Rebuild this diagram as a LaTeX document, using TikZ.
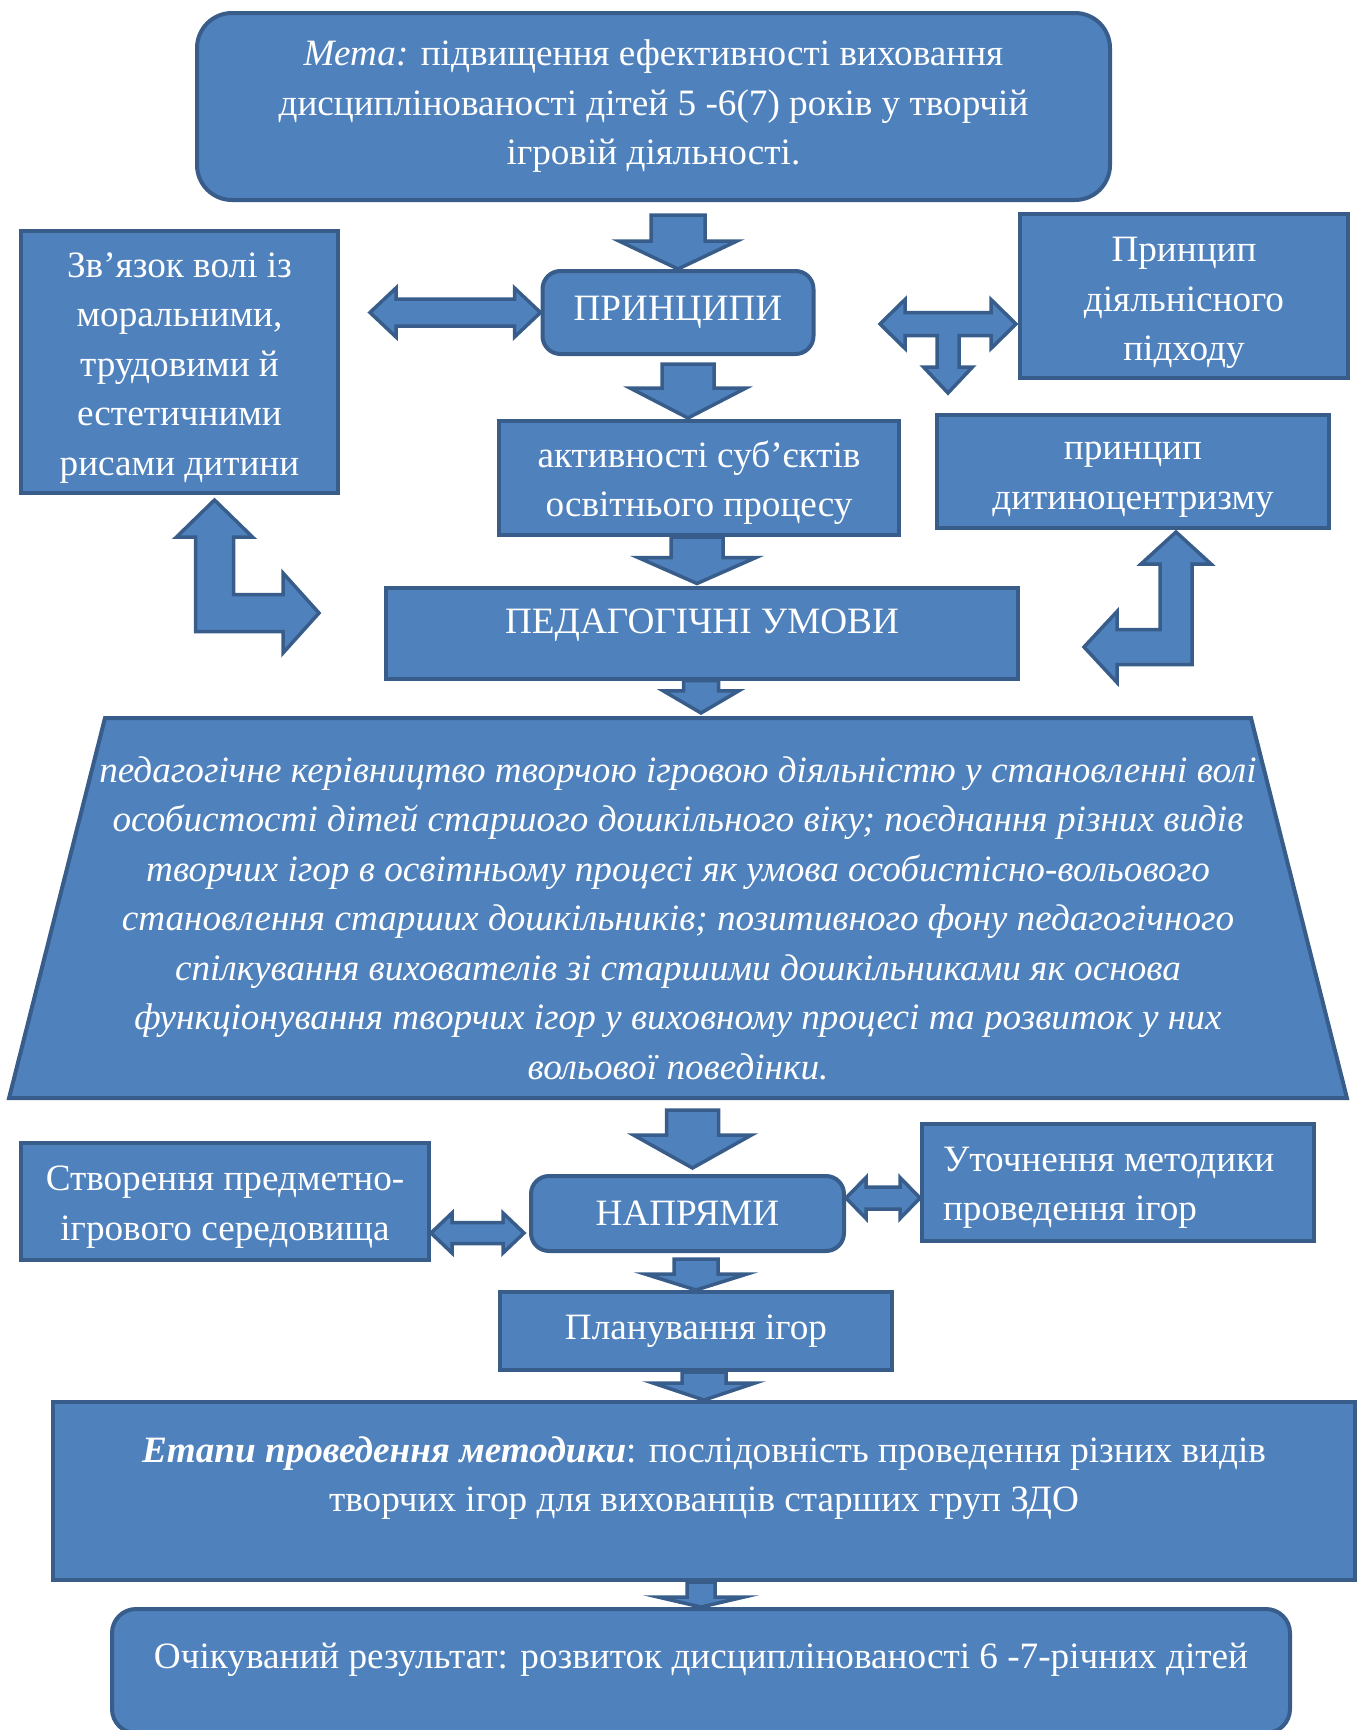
\documentclass[tikz,border=0pt]{standalone}
\usepackage{fontspec}
\setmainfont{Liberation Serif}
\usetikzlibrary{calc}
\usetikzlibrary{shapes.geometric}

\definecolor{boxfill}{HTML}{4F81BD}
\definecolor{boxline}{HTML}{385D8A}

\tikzset{
	box/.style={draw=boxline,fill=boxfill,line width=4pt,text=white,align=flush center,inner sep=0pt,font=\fontsize{37.2}{49.5}\selectfont},
	roundbox/.style={box,rounded corners=#1},
	roundbox/.default=18pt,
	strutted/.style={execute at begin node={\rule{0pt}{#1}}},
	strutted/.default=36pt,
	blockarrow/.style={draw=boxline,fill=boxfill,line width=3.5pt,line join=miter}
}

% fat arrow down: start, tip, shaft half width, head half width, head length
\newcommand{\fatdown}[5]{%
	\filldraw[blockarrow] ($(#2|-#1)+(-#3,0)$) -- ($(#2|-#1)+(#3,0)$)
		-- ($(#2)+(#3,-#5)$) -- ($(#2)+(#4,-#5)$) -- (#2)
		-- ($(#2)+(-#4,-#5)$) -- ($(#2)+(-#3,-#5)$) -- cycle;}

% fat double arrow: left tip, right tip, shaft half width, head half width, head length
\newcommand{\fatboth}[5]{%
	\filldraw[blockarrow] (#1|-#2) -- ($(#1|-#2)+(#5,-#4)$) -- ($(#1|-#2)+(#5,-#3)$)
		-- ($(#2)+(-#5,-#3)$) -- ($(#2)+(-#5,-#4)$) -- (#2)
		-- ($(#2)+(-#5,#4)$) -- ($(#2)+(-#5,#3)$)
		-- ($(#1|-#2)+(#5,#3)$) -- ($(#1|-#2)+(#5,#4)$) -- cycle;}

\begin{document}
\begin{tikzpicture}[x=1pt,y=-1pt]
			\useasboundingbox (0,0) rectangle (1363,1730);
			
			% goal and principles
			
			\node[roundbox=35pt,minimum width=913pt,minimum height=187pt] (goal) at (653.5,106.5) {\textit{Мета:} підвищення ефективності виховання\\дисциплінованості дітей 5 -6(7) років у творчій\\ігровій діяльності.};
			\node[box,strutted,text width=300pt,minimum width=317pt,minimum height=262pt] (link) at (179.5,362) {Зв’язок волі із\\моральними,\\трудовими й\\естетичними\\рисами дитини};
			\node[roundbox,minimum width=271pt,minimum height=83pt] (rules) at (678,312.5) {ПРИНЦИПИ};
			\node[box,strutted=38.5pt,text width=300pt,minimum width=328pt,minimum height=164pt] (activity) at (1184,296) {Принцип\\діяльнісного\\підходу};
			\node[box,strutted,text width=380pt,minimum width=400pt,minimum height=114pt] (subj) at (699,478) {активності суб’єктів\\освітнього процесу};
			\node[box,strutted=34.5pt,text width=380pt,minimum width=392pt,minimum height=113pt] (child) at (1133,471.5) {принцип\\дитиноцентризму};
			
			% conditions
			
			\node[box,minimum width=632pt,minimum height=91pt,text height=24pt,text depth=24pt] (cond) at (702,633) {ПЕДАГОГІЧНІ УМОВИ};
			\node[box,trapezium,trapezium angle=75,trapezium stretches=true,minimum width=1336pt,minimum height=380pt,text width=1200pt,inner xsep=-27pt,text height=53pt,text depth=305pt,font=\fontsize{37.2}{49.5}\selectfont\itshape] (means) at (678,908) {педагогічне керівництво творчою ігровою діяльністю у становленні волі\\особистості дітей старшого дошкільного віку; поєднання різних видів\\творчих ігор в освітньому процесі як умова особистісно-вольового\\становлення старших дошкільників; позитивного фону педагогічного\\спілкування вихователів зі старшими дошкільниками як основа\\функціонування творчих ігор у виховному процесі та розвиток у них\\вольової поведінки.};
			
			% directions
			
			\node[roundbox,minimum width=313pt,minimum height=75pt] (dirs) at (687.5,1213.5) {НАПРЯМИ};
			\node[box,strutted=37pt,text width=400pt,minimum width=408pt,minimum height=117pt] (env) at (225,1201) {Створення предметно-\\ігрового середовища};
			\node[box,strutted,minimum width=392pt,minimum height=117pt,text width=350pt,align=flush left] (refine) at (1118,1182) {Уточнення методики\\проведення ігор};
			\node[box,minimum width=392pt,minimum height=78pt] (plan) at (696,1331) {Планування ігор};
			\node[box,minimum width=1302pt,minimum height=178pt,text width=1260pt,text height=26pt,text depth=84pt] (stages) at (704,1491) {\textbf{\textit{Етапи проведення методики}}: послідовність проведення різних видів\\творчих ігор для вихованців старших груп ЗДО};
			\node[roundbox=24pt,minimum width=1178pt,minimum height=124pt,text height=26pt,text depth=32pt] (result) at (701,1671) {Очікуваний результат: розвиток дисциплінованості 6 -7-річних дітей};
			
			% arrows down
			
			\coordinate (a1) at ($(goal.south)+(0,13)$);
			\fatdown{a1}{rules.north}{27}{59}{28}
			\coordinate (a2) at ($(rules.south)+(0,8)$);
			\coordinate (a2t) at ($(subj.north)+(-11,-1)$);
			\fatdown{a2}{a2t}{26}{58}{30}
			\coordinate (a3t) at ($(cond.north)+(-5,-2)$);
			\fatdown{subj.south}{a3t}{26}{59}{26}
			\coordinate (a4t) at ($(means.north)+(23,-3)$);
			\fatdown{cond.south}{a4t}{17.5}{37.5}{22}
			\coordinate (a5) at ($(means.south)+(0,10)$);
			\coordinate (a5t) at ($(dirs.north)+(5,-6)$);
			\fatdown{a5}{a5t}{26}{59}{33}
			\coordinate (a6) at ($(dirs.south)+(0,6)$);
			\fatdown{a6}{plan.north}{22}{51}{16}
			\fatdown{plan.south}{stages.north}{22}{51}{17}
			\fatdown{stages.south}{result.north}{14}{43}{10}
			
			% arrows both ways
			
			\coordinate (h1) at ($(link.east)+(30,0)$);
			\fatboth{h1}{rules.west}{13.5}{24.5}{26}
			\coordinate (h3) at ($(dirs.west)+(-5,19.5)$);
			\fatboth{env.east}{h3}{10.5}{20}{21}
			\coordinate (h4) at ($(refine.west)+(0,16)$);
			\fatboth{dirs.east}{h4}{11}{20.5}{20}
			
			% T arrow
			
			\coordinate (tl) at ($(rules.east)+(64.5,11.5)$);
			\coordinate (tr) at ($(activity.west)+(-2,28)$);
			\coordinate (tm) at ($(tl)!0.5!(tr)$);
			\filldraw[blockarrow] (tl|-tr) -- ($(tl|-tr)+(25,-24.5)$) -- ($(tl|-tr)+(25,-11.5)$)
				-- ($(tr)+(-25,-11.5)$) -- ($(tr)+(-25,-24.5)$) -- (tr)
				-- ($(tr)+(-25,24.5)$) -- ($(tr)+(-25,11.5)$)
				-- ($(tm|-tr)+(11,11.5)$) -- ($(tm|-tr)+(11,43)$) -- ($(tm|-tr)+(24.5,43)$)
				-- ($(tm|-tr)+(0,69)$) -- ($(tm|-tr)+(-24.5,43)$) -- ($(tm|-tr)+(-11,43)$)
				-- ($(tm|-tr)+(-11,11.5)$) -- ($(tl|-tr)+(25,11.5)$) -- ($(tl|-tr)+(25,24.5)$) -- cycle;
			
			% bent arrows
			
			\coordinate (lu) at ($(link.south)+(35,5)$);
			\coordinate (lr) at ($(cond.west)+(-65,-20)$);
			\filldraw[blockarrow] (lu) -- ($(lu)+(38,37)$) -- ($(lu)+(19,37)$)
				-- ($(lu|-lr)+(19,-18.5)$) -- ($(lr)+(-36,-18.5)$) -- ($(lr)+(-36,-40)$) -- (lr)
				-- ($(lr)+(-36,40)$) -- ($(lr)+(-36,18.5)$) -- ($(lu|-lr)+(-19,18.5)$)
				-- ($(lu)+(-19,37)$) -- ($(lu)+(-38,37)$) -- cycle;
			\coordinate (ru) at ($(child.south)+(43,2)$);
			\coordinate (rl) at ($(cond.east)+(64,14)$);
			\filldraw[blockarrow] (ru) -- ($(ru)+(35,32)$) -- ($(ru)+(16,32)$)
				-- ($(ru|-rl)+(16,17.5)$) -- ($(rl)+(33,17.5)$) -- ($(rl)+(33,35.5)$) -- (rl)
				-- ($(rl)+(33,-35.5)$) -- ($(rl)+(33,-17.5)$) -- ($(ru|-rl)+(-16,-17.5)$)
				-- ($(ru)+(-16,32)$) -- ($(ru)+(-35,32)$) -- cycle;
			
		\end{tikzpicture}
\end{document}
